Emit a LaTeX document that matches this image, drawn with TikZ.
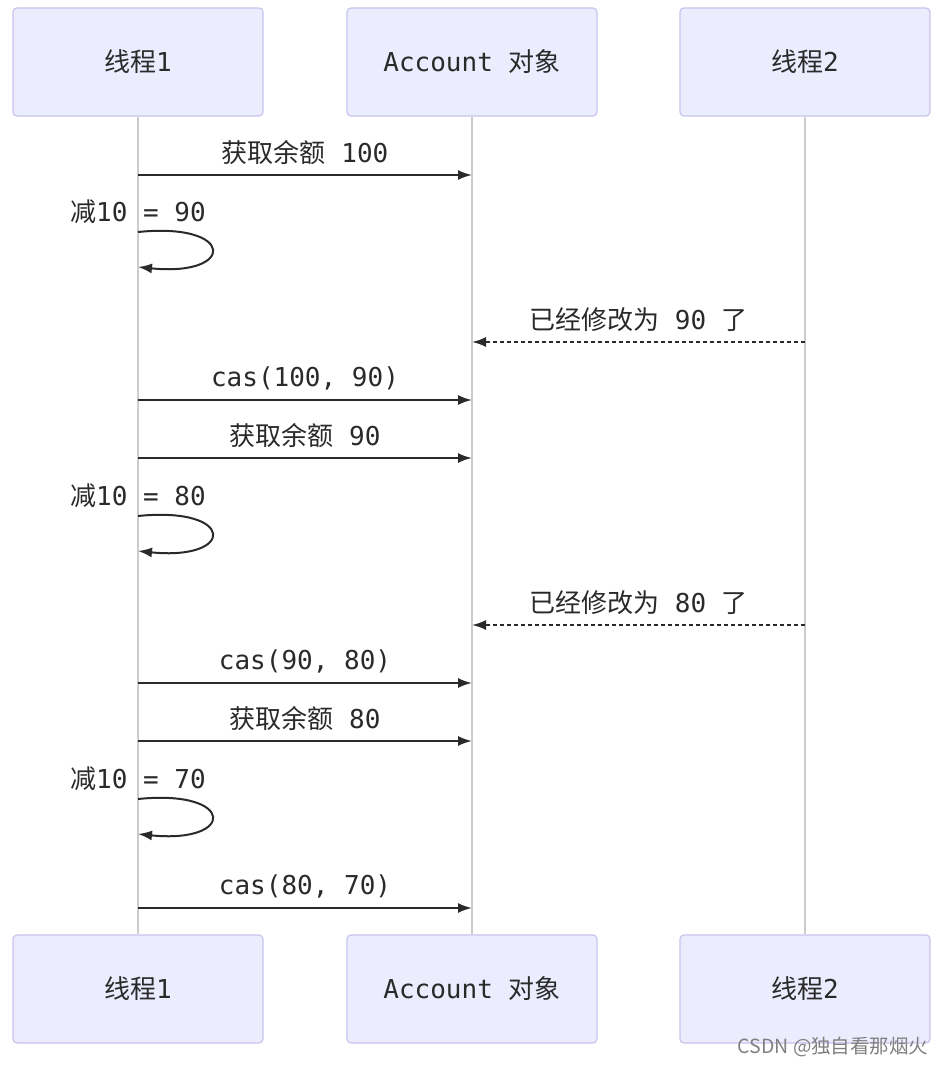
\documentclass[tikz,border=0pt]{standalone}
\usepackage{fontspec}
\setmainfont{DejaVu Sans Mono}
\newfontfamily\cjk{Noto Sans CJK SC}
\usetikzlibrary{arrows.meta}
\definecolor{boxfill}{HTML}{ECECFF}
\definecolor{boxline}{HTML}{C8C4EE}
\definecolor{lifeline}{HTML}{CCCCCC}
\definecolor{txt}{HTML}{2A2A2A}
\newcommand{\zh}[1]{{\cjk #1}}
\tikzset{
  actor/.style={draw=boxline, fill=boxfill, rounded corners=4pt, minimum width=250pt, minimum height=108pt, line width=1.2pt, text=txt},
  life/.style={draw=lifeline, line width=1.2pt},
  msg/.style={draw=txt, line width=2pt, -{Latex[length=14pt,width=10pt]}},
  reply/.style={msg, dash pattern=on 4pt off 3pt},
  lbl/.style={midway, yshift=22pt, text=txt},
}
\begin{document}
\begin{tikzpicture}[x=1pt, y=-1pt, font=\fontsize{26}{31}\selectfont]
    \useasboundingbox[fill=white] (0,0) rectangle (946,1065);
    % actors
    \node[actor] (top1) at (138,62) {\zh{线程}1};
    \node[actor] (top2) at (472,62) {Account \zh{对象}};
    \node[actor] (top3) at (805,62) {\zh{线程}2};
    \node[actor] (bot1) at (138,989) {\zh{线程}1};
    \node[actor] (bot2) at (472,989) {Account \zh{对象}};
    \node[actor] (bot3) at (805,989) {\zh{线程}2};
    \draw[life] (top1) -- (bot1);
    \draw[life] (top2) -- (bot2);
    \draw[life] (top3) -- (bot3);
    % round 1
    \draw[msg] (top1 |- 0,175) -- (top2 |- 0,175) node[lbl]{\zh{获取余额} 100};
    \node[text=txt] (sub1) at (top1 |- 0,212) {\zh{减}10 = 90};
    \draw[msg] (top1 |- 0,232) .. controls +(98,-10) and +(98,10) .. (top1 |- 0,267);
    \draw[reply] (top3 |- 0,342) -- (top2 |- 0,342) node[lbl]{\zh{已经修改为} 90 \zh{了}};
    \draw[msg] (top1 |- 0,400) -- (top2 |- 0,400) node[lbl]{cas(100, 90)};
    % round 2
    \draw[msg] (top1 |- 0,458) -- (top2 |- 0,458) node[lbl]{\zh{获取余额} 90};
    \node[text=txt] (sub2) at (top1 |- 0,496) {\zh{减}10 = 80};
    \draw[msg] (top1 |- 0,516) .. controls +(98,-10) and +(98,10) .. (top1 |- 0,551);
    \draw[reply] (top3 |- 0,625) -- (top2 |- 0,625) node[lbl]{\zh{已经修改为} 80 \zh{了}};
    \draw[msg] (top1 |- 0,683) -- (top2 |- 0,683) node[lbl]{cas(90, 80)};
    % round 3
    \draw[msg] (top1 |- 0,741) -- (top2 |- 0,741) node[lbl]{\zh{获取余额} 80};
    \node[text=txt] (sub3) at (top1 |- 0,779) {\zh{减}10 = 70};
    \draw[msg] (top1 |- 0,799) .. controls +(98,-10) and +(98,10) .. (top1 |- 0,834);
    \draw[msg] (top1 |- 0,908) -- (top2 |- 0,908) node[lbl]{cas(80, 70)};
    % watermark
    \node[anchor=east, text=gray, font=\cjk\fontsize{19.5}{22}\selectfont] (mark) at (932,1047) {CSDN @独自看那烟火};
\end{tikzpicture}
\end{document}
